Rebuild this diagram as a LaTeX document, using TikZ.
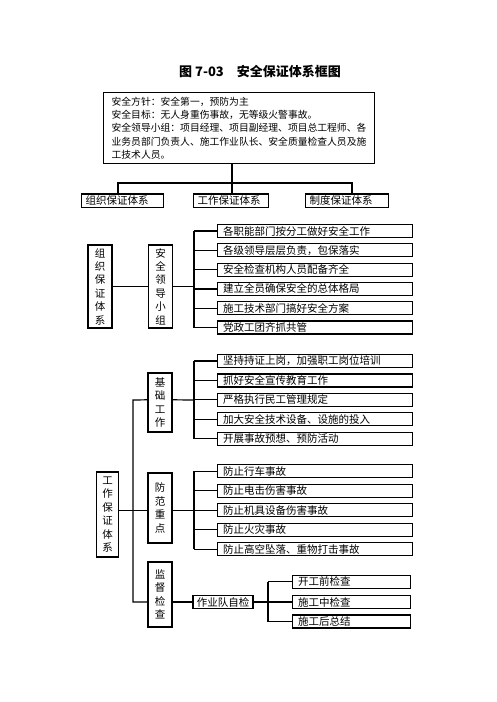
\documentclass[tikz,border=0pt]{standalone}
\usepackage{fontspec}
\setmainfont{Noto Sans CJK SC}
\newcommand{\fs}{\fontsize{10.5}{13.4}\selectfont}

\begin{document}
\begin{tikzpicture}[x=1pt,y=-1pt,line width=1.2pt,
    box/.style={draw,inner sep=0pt,font=\fs},
    sys/.style={box,anchor=west,minimum height=13.5pt,inner xsep=4pt,align=left},
    item/.style={box,anchor=west,minimum height=13pt,text width=184pt,inner xsep=5.5pt,align=left},
    col/.style={box,minimum width=24pt,align=center}]
  \useasboundingbox (0,0) rectangle (496,702);
  \def\xa{217}
  \def\xb{292}
  % head
  \node[font=\fontsize{13}{14}\selectfont\bfseries] (title) at (260,71.5) {图 7-03\quad 安全保证体系框图};
  \node[box,anchor=north west,minimum height=71pt,text width=255pt,inner xsep=8pt,align=left,
        font=\fontsize{9.8}{13.2}\selectfont] (aim) at (103,92)
       {安全方针：安全第一，预防为主\\安全目标：无人身重伤事故，无等级火警事故。\\
        安全领导小组：项目经理、项目副经理、项目总工程师、各\\
        业务员部门负责人、施工作业队长、安全质量检查人员及施\\工技术人员。};
  \node[sys,text width=74pt] (org0)  at (81,200.7)  {组织保证体系};
  \node[sys,text width=67pt] (work0) at (193,200.7) {工作保证体系};
  \node[sys,text width=75pt] (rule0) at (305,200.7) {制度保证体系};
  \coordinate (h1) at (118,183);
  \coordinate (h2) at (232,183);
  \coordinate (h3) at (352,183);
  \draw (aim.south -| h2) -- (work0.north -| h2);
  \draw (org0.north -| h1) -- (h1) -- (h3) -- (rule0.north -| h3);

  % organisation
  \node[col,minimum height=83pt] (org)  at (100,286.5)  {组\\织\\保\\证\\体\\系};
  \node[col,minimum height=83pt] (lead) at (160.5,286.5) {安\\全\\领\\导\\小\\组};
  \node[item] (l1) at (\xa,231)   {各职能部门按分工做好安全工作};
  \node[item] (l2) at (\xa,250.3) {各级领导层层负责，包保落实};
  \node[item] (l3) at (\xa,269.6) {安全检查机构人员配备齐全};
  \node[item] (l4) at (\xa,288.9) {建立全员确保安全的总体格局};
  \node[item] (l5) at (\xa,308.2) {施工技术部门搞好安全方案};
  \node[item] (l6) at (\xa,327.5) {党政工团齐抓共管};
  \coordinate (lcol) at (194,231);
  \draw (org) -- (lead);
  \draw (lead.east) -- (lead.east -| lcol);
  \draw (l1.west -| lcol) -- (l6.west -| lcol);
  \foreach \i in {1,...,6} \draw (l\i.west) -- (l\i.west -| lcol);

  % work
  \node[col,minimum width=21.5pt,minimum height=85pt] (work) at (107.5,514.5) {工\\作\\保\\证\\体\\系};
  \node[col,minimum height=59pt] (base)  at (160,402.5) {基\\础\\工\\作};
  \node[col,minimum height=70pt] (key)   at (160,508)   {防\\范\\重\\点};
  \node[col,minimum height=65pt] (check) at (160,594.5) {监\\督\\检\\查};
  \node[item] (b1) at (\xa,361)   {坚持持证上岗，加强职工岗位培训};
  \node[item] (b2) at (\xa,380.4) {抓好安全宣传教育工作};
  \node[item] (b3) at (\xa,399.8) {严格执行民工管理规定};
  \node[item] (b4) at (\xa,419.2) {加大安全技术设备、设施的投入};
  \node[item] (b5) at (\xa,438.6) {开展事故预想、预防活动};
  \node[item] (k1) at (\xa,471.3) {防止行车事故};
  \node[item] (k2) at (\xa,490.8) {防止电击伤害事故};
  \node[item] (k3) at (\xa,510.3) {防止机具设备伤害事故};
  \node[item] (k4) at (\xa,529.8) {防止火灾事故};
  \node[item] (k5) at (\xa,549.3) {防止高空坠落、重物打击事故};
  \node[box,minimum width=60pt,minimum height=12.5pt] (self) at (223,602) {作业队自检};
  \node[item,text width=107pt] (s1) at (\xb,581.7) {开工前检查};
  \node[item,text width=107pt] (s2) at (\xb,602)   {施工中检查};
  \node[item,text width=107pt] (s3) at (\xb,621.5) {施工后总结};
  \coordinate (wcol) at (133,400);
  \coordinate (bcol) at (194,400);
  \coordinate (scol) at (268,602);
  \draw (base.west |- b3.west) -- (wcol) -- (wcol |- self.west) -- (check.west |- self.west);
  \draw (work.east |- k3.west) -- (key.west |- k3.west);
  \draw (base.east |- b3.west) -- (bcol);
  \draw (key.east |- k3.west) -- (k3.west -| bcol);
  \draw (b1.west -| bcol) -- (b5.west -| bcol);
  \draw (k1.west -| bcol) -- (k5.west -| bcol);
  \foreach \i in {1,...,5} {
    \draw (b\i.west) -- (b\i.west -| bcol);
    \draw (k\i.west) -- (k\i.west -| bcol);
  }
  \draw (check.east |- self.west) -- (self.west);
  \draw (self.east) -- (scol);
  \draw (s1.west -| scol) -- (s3.west -| scol);
  \foreach \i in {1,2,3} \draw (s\i.west) -- (s\i.west -| scol);
\end{tikzpicture}
\end{document}
